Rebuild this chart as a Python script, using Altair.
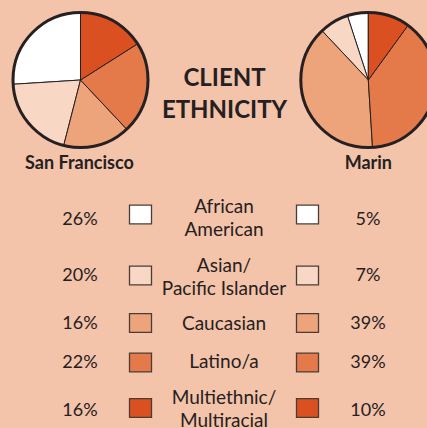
import altair as alt
import pandas as pd

# ---- data ----
categories = ["African American", "Asian/Pacific Islander", "Caucasian", "Latino/a", "Multiethnic/Multiracial"]
label_lines = ["African\nAmerican", "Asian/\nPacific Islander", "Caucasian", "Latino/a", "Multiethnic/\nMultiracial"]
sf_values = [26, 20, 16, 22, 16]
marin_values = [5, 7, 39, 39, 10]
colors = ["#ffffff", "#f9d7c5", "#eda47b", "#e47a49", "#da5020"]
title_lines = ["CLIENT", "ETHNICITY"]
places = ["San Francisco", "Marin"]

BG = "#f3c4a9"
INK = "#262022"
FONT = "Lato"

rows = pd.DataFrame({
    "category": categories,
    "label": label_lines,
    "sf": sf_values,
    "marin": marin_values,
    "idx": list(range(len(categories))),
})

pie_df = pd.DataFrame({
    "site": [places[0]] * len(categories) + [places[1]] * len(categories),
    "category": categories * 2,
    "value": sf_values + marin_values,
    "idx": list(range(len(categories))) * 2,
})

color_scale = alt.Scale(domain=categories, range=colors)

PIE_R = 67.5
PIE_CY = 80
SF_CX = 80.5
MARIN_CX = 368.3


def pie(site, cx):
    return alt.Chart(pie_df).transform_filter(alt.datum.site == site).mark_arc(
        radius=PIE_R, stroke=INK, strokeWidth=1
    ).encode(
        theta=alt.Theta("value:Q", stack=True),
        color=alt.Color("category:N", scale=color_scale, legend=None),
        order=alt.Order("idx:Q", sort="descending"),
        x=alt.value(cx),
        y=alt.value(PIE_CY),
    )


def ring(cx):
    return alt.Chart(pd.DataFrame({"site": places})).transform_filter(
        alt.datum.site == places[0]
    ).mark_arc(
        radius=PIE_R, theta=0, theta2=6.2832, filled=False, stroke=INK, strokeWidth=3
    ).encode(x=alt.value(cx), y=alt.value(PIE_CY))


def yrow(rng):
    return alt.Y("idx:Q", scale=alt.Scale(domain=list(range(len(categories))), range=rng,
                                          nice=False, zero=False), axis=None)


pct_y = [220, 276, 324, 363, 411]
lab_y = [207, 266, 324, 362, 398]   # first-line centres
sq_y = [214.5, 275.5, 323, 362.5, 408]

base = alt.Chart(rows)

left_pct = base.transform_calculate(t=alt.datum.sf + "%").mark_text(
    font=FONT, fontSize=18, color=INK, align="center", baseline="middle"
).encode(x=alt.value(80), y=yrow(pct_y), text="t:N")

right_pct = base.transform_calculate(t=alt.datum.marin + "%").mark_text(
    font=FONT, fontSize=18, color=INK, align="center", baseline="middle"
).encode(x=alt.value(368), y=yrow(pct_y), text="t:N")

labels = base.mark_text(
    font=FONT, fontSize=19, color=INK, align="center", baseline="middle",
    lineBreak="\n", lineHeight=23
).encode(x=alt.value(224), y=yrow(lab_y), text="label:N")

sq_shape = "M-1,-0.86L1,-0.86L1,0.86L-1,0.86Z"


def squares(cx):
    return base.mark_point(
        shape=sq_shape, size=22 * 22, filled=True, stroke="#4a3c38", strokeWidth=1.3, opacity=1
    ).encode(
        x=alt.value(cx), y=yrow(sq_y),
        fill=alt.Fill("category:N", scale=color_scale, legend=None),
    )


title = alt.Chart(pd.DataFrame({"t": ["\n".join(title_lines)]})).mark_text(
    font=FONT, fontSize=24, fontWeight="bold", color=INK, align="center", baseline="middle",
    lineBreak="\n", lineHeight=32
).encode(x=alt.value(224.5), y=alt.value(78.5), text="t:N")

place_df = pd.DataFrame({"site": places})
place_txt = alt.Chart(place_df).mark_text(
    font=FONT, fontSize=18, fontWeight="bold", color=INK, align="center", baseline="middle"
).encode(
    x=alt.X("site:N", scale=alt.Scale(domain=places, range=[SF_CX - 1, MARIN_CX], padding=0), axis=None),
    y=alt.value(164),
    text="site:N",
)

chart = alt.layer(
    pie(places[0], SF_CX), pie(places[1], MARIN_CX), ring(SF_CX), ring(MARIN_CX),
    title, place_txt, left_pct, right_pct, labels, squares(140.5), squares(307.5),
).resolve_scale(y="independent").properties(
    width=427, height=428, padding=0, autosize="none", background=BG
).configure_view(stroke=None)

chart.save("out.html", embed_options={"renderer": "svg", "actions": False})
